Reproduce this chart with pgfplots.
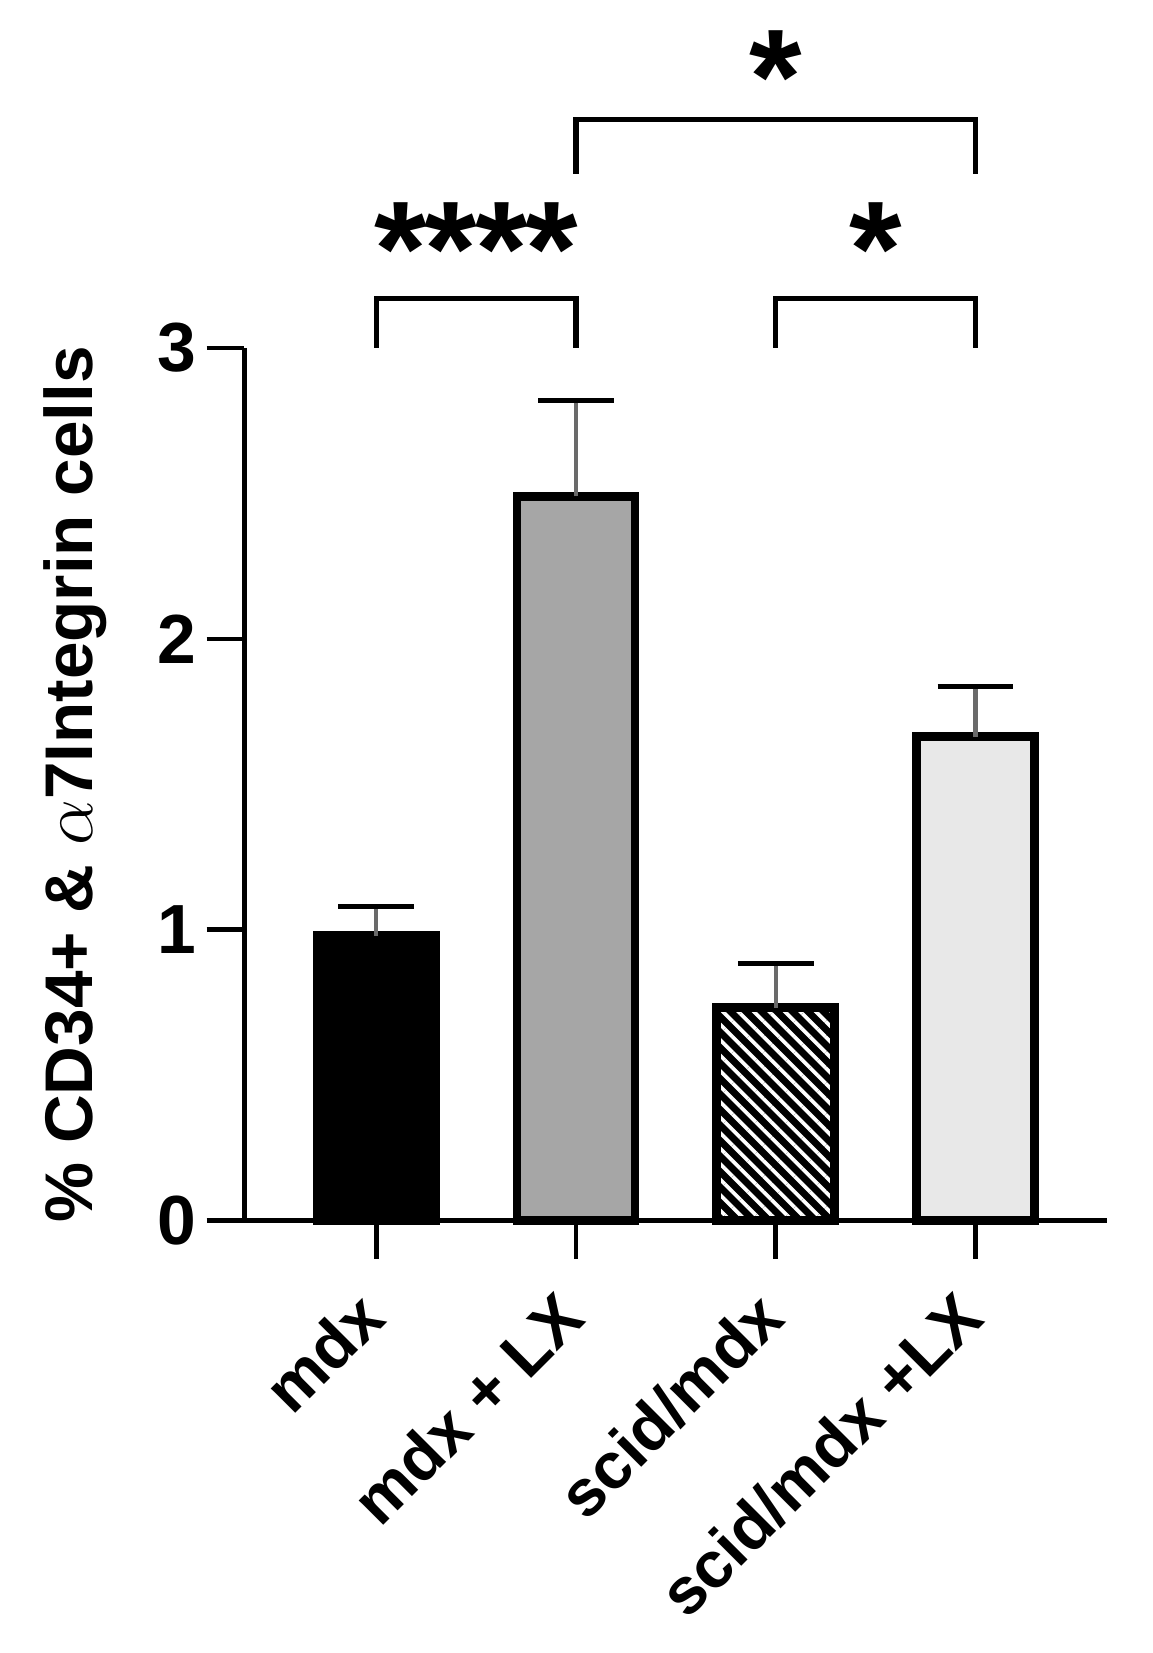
\documentclass[border=0pt]{standalone}
\usepackage{fontspec}
\setmainfont{Liberation Sans}
\usepackage{pgfplots}
\pgfplotsset{compat=1.18}
\usetikzlibrary{patterns.meta}

\definecolor{midgray}{HTML}{A6A6A6}
\definecolor{lightgray}{HTML}{E8E8E8}
\definecolor{stemgray}{HTML}{6A6A6A}

\pgfplotsset{
  errbar/.style={
    error bars/.cd, y dir=plus, y explicit,
    error bar style={line width=1pt, stemgray},
    error mark options={rotate=90, mark size=9pt, line width=1.2pt, black},
  },
}

\begin{document}
\begin{tikzpicture}[font=\fontsize{16}{19}\selectfont\bfseries]
\begin{axis}[
  scale only axis,
  width=204.5pt, height=207pt,
  xmin=-0.66, xmax=3.657,
  ymin=0, ymax=3,
  axis x line=bottom, axis y line=left,
  axis line style={-, line width=1.1pt},
  xtick={0,1,2,3},
  xticklabels={mdx, mdx + LX, scid/mdx, scid/mdx +LX},
  ytick={0,1,2,3},
  tick align=outside,
  major tick length=9pt,
  tick style={line width=1.1pt, black},
  % shifts are taken in the rotated frame: (-7,-7) there is straight down
  x tick label style={rotate=45, anchor=east, inner sep=1pt, xshift=-7.5pt, yshift=-7pt,
    font=\fontsize{15.5}{18}\selectfont\bfseries},
  y tick label style={xshift=1pt, font=\fontsize{16.5}{19}\selectfont\bfseries},
  /pgf/number format/assume math mode=true,
  ylabel={\% CD34+ \& $\alpha$7Integrin cells},
  ylabel style={at={(axis description cs:-0.196,0.5)}, anchor=center},
  ybar, bar width=28pt,
  clip=false,
]
% mdx
\addplot[bar shift=0pt, draw=black, line width=2.1pt, fill=black, errbar]
  coordinates {(0,0.98) +- (0,0.10)};
% mdx + LX
\addplot[bar shift=0pt, draw=black, line width=2.1pt, fill=midgray, errbar]
  coordinates {(1,2.49) +- (0,0.33)};
% scid/mdx
\addplot[bar shift=0pt, draw=black, line width=2.1pt, fill=black,
  postaction={pattern={Lines[angle=-45, distance=2.6pt, line width=0.9pt]}, pattern color=white},
  errbar]
  coordinates {(2,0.732) +- (0,0.152)};
% scid/mdx + LX
\addplot[bar shift=0pt, draw=black, line width=2.1pt, fill=lightgray, errbar]
  coordinates {(3,1.663) +- (0,0.174)};

% significance brackets
\draw[line width=1.3pt] (axis cs:0,3.0) -- (axis cs:0,3.17) -- (axis cs:1,3.17) -- (axis cs:1,3.0);
\draw[line width=1.3pt] (axis cs:2,3.0) -- (axis cs:2,3.17) -- (axis cs:3,3.17) -- (axis cs:3,3.0);
\draw[line width=1.3pt] (axis cs:1,3.598) -- (axis cs:1,3.786) -- (axis cs:3,3.786) -- (axis cs:3,3.598);
\node[font=\fontsize{32}{32}\selectfont\bfseries, inner sep=0pt] at (axis cs:0.5,3.34) {*\kern-0.5pt*\kern-0.5pt*\kern-0.5pt*};
\node[font=\fontsize{32}{32}\selectfont\bfseries, inner sep=0pt] at (axis cs:2.5,3.34) {*};
\node[font=\fontsize{32}{32}\selectfont\bfseries, inner sep=0pt] at (axis cs:2,3.93) {*};

% page extent
\path (axis cs:-1.884,-1.486) rectangle (axis cs:3.884,4.196);
\end{axis}
\end{tikzpicture}
\end{document}
